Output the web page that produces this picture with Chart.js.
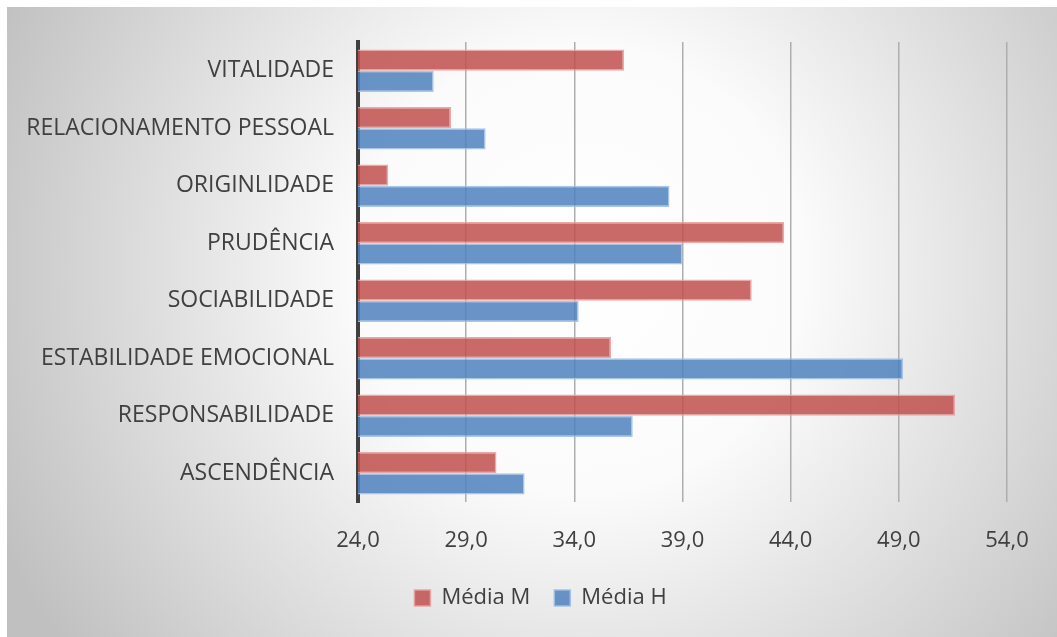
<!DOCTYPE html>
<html>
<head>
<meta charset="utf-8">
<script src="https://cdn.jsdelivr.net/npm/chart.js@4"></script>
<style>
  html, body { margin: 0; padding: 0; background: #fff; }
  #wrap { width: 1057px; height: 637px; position: relative; }
</style>
</head>
<body>
<div id="wrap"><canvas id="chart" width="1057" height="637"></canvas></div>
<script>
const categories = [
  "VITALIDADE",
  "RELACIONAMENTO PESSOAL",
  "ORIGINLIDADE",
  "PRUDÊNCIA",
  "SOCIABILIDADE",
  "ESTABILIDADE EMOCIONAL",
  "RESPONSABILIDADE",
  "ASCENDÊNCIA",
];
const mediaM = [36.3, 28.3, 25.4, 43.7, 42.2, 35.7, 51.6, 30.4];
const mediaH = [27.5, 29.9, 38.4, 39.0, 34.2, 49.2, 36.7, 31.7];
const xMin = 24;
const xMax = 54;
const xStep = 5;

const textColor = "#404040";
const fontFamily = "'Open Sans', 'Noto Sans', sans-serif";

// gray radial background behind the whole chart frame
const backgroundPlugin = {
  id: "bg",
  beforeDraw(chart) {
    const ctx = chart.ctx;
    ctx.save();
    const g = ctx.createRadialGradient(580, 270, 0, 580, 270, 640);
    g.addColorStop(0, "#ffffff");
    g.addColorStop(0.35, "#fbfbfb");
    g.addColorStop(1, "#c0c0c0");
    ctx.fillStyle = g;
    ctx.fillRect(7, 7, 1050, 630);
    ctx.restore();
  },
};

// legend sits a bit right of the canvas centre in the original
const legendShift = {
  id: "legendShift",
  afterLayout(chart) {
    chart.legend.left += 37;
    chart.legend.right += 37;
  },
};

const ctx = document.getElementById("chart");
new Chart(ctx, {
  type: "bar",
  data: {
    labels: categories,
    datasets: [
      {
        label: "Média M",
        data: mediaM,
        backgroundColor: "rgba(192, 80, 77, 0.85)",
        borderColor: "rgba(232, 160, 160, 0.9)",
        borderWidth: 1.5,
        borderSkipped: false,
      },
      {
        label: "Média H",
        data: mediaH,
        backgroundColor: "rgba(79, 129, 189, 0.85)",
        borderColor: "rgba(160, 192, 230, 0.9)",
        borderWidth: 1.5,
        borderSkipped: false,
      },
    ],
  },
  options: {
    indexAxis: "y",
    responsive: false,
    animation: false,
    layout: {
      padding: { top: 42, right: 50, bottom: 18, left: 0 },
    },
    datasets: {
      bar: { categoryPercentage: 0.74, barPercentage: 1.0 },
    },
    scales: {
      x: {
        min: xMin,
        max: xMax,
        ticks: {
          stepSize: xStep,
          color: textColor,
          font: { family: fontFamily, size: 22 },
          padding: 26,
          callback: (v) => v.toFixed(1).replace(".", ","),
        },
        grid: { color: "#aeaeae", lineWidth: 1.5, drawTicks: false },
        border: { display: false },
        afterFit: (scale) => { scale.height = 61; },
      },
      y: {
        z: 1,
        ticks: {
          color: textColor,
          font: { family: fontFamily, size: 23 },
          padding: 24,
        },
        grid: { display: false, drawTicks: false },
        border: { display: true, color: "#404040", width: 4 },
        afterFit: (scale) => { scale.width = 358; },
      },
    },
    plugins: {
      legend: {
        position: "bottom",
        labels: {
          color: textColor,
          font: { family: fontFamily, size: 22 },
          boxWidth: 16,
          boxHeight: 16,
          padding: 24,
        },
      },
      tooltip: { enabled: false },
    },
  },
  plugins: [backgroundPlugin, legendShift],
});
</script>
</body>
</html>
